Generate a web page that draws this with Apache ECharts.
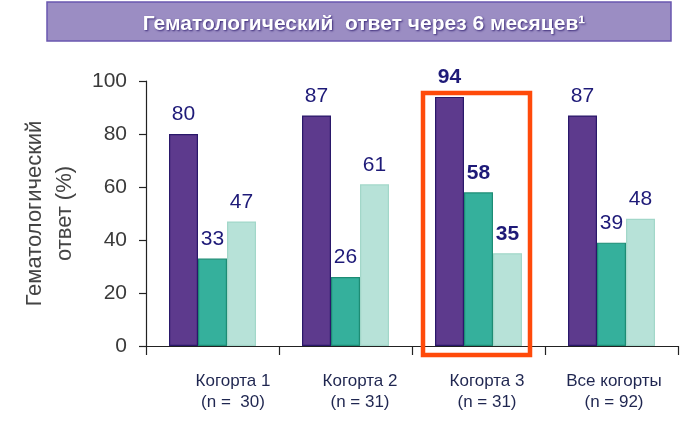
<!DOCTYPE html>
<html><head><meta charset="utf-8">
<script src="https://cdn.jsdelivr.net/npm/echarts@6/dist/echarts.min.js"></script>
<style>html,body{margin:0;padding:0;background:#fff}#c{width:700px;height:422px}</style>
</head><body><div id="c"></div>
<script>
const titleText = 'Гематологический  ответ через 6 месяцев¹';
const categories = ['Когорта 1', 'Когорта 2', 'Когорта 3', 'Все когорты'];
const catLabels = ['Когорта 1\n(n =  30)', 'Когорта 2\n(n = 31)', 'Когорта 3\n(n = 31)', 'Все когорты\n(n = 92)'];
const seriesA = [80, 87, 94, 87];
const seriesB = [33, 26, 58, 39];
const seriesC = [47, 61, 35, 48];
const yTicks = [0, 20, 40, 60, 80, 100];
const highlightIndex = 2;

const chart = echarts.init(document.getElementById('c'));
const font = 'Liberation Sans, Arial, sans-serif';
function mk(vals, color, border) {
  return {
    type: 'bar', xAxisIndex: 0, yAxisIndex: 0, barWidth: 29, barGap: '0%',
    itemStyle: { color: color, borderColor: border, borderWidth: 1.2 },
    label: { show: true, position: 'top', distance: 9, color: '#1e1a78', fontSize: 21, fontFamily: font },
    data: vals.map((v, i) => i === highlightIndex ? { value: v, label: { fontWeight: 'bold' } } : v)
  };
}
chart.setOption({
  animation: false,
  title: {
    text: titleText, left: 359, textAlign: 'center', top: 9,
    textStyle: { color: '#fff', fontSize: 21, fontWeight: 'bold', fontFamily: font,
      textShadowColor: '#3b2a78', textShadowBlur: 2, textShadowOffsetX: 1, textShadowOffsetY: 1 }
  },
  grid: [
    { left: 146, right: 22, top: 81, bottom: 76 },
    { left: 169.5, right: 22.5, top: 81, bottom: 76 }
  ],
  xAxis: [
    { type: 'category', gridIndex: 0, data: categories,
      axisLine: { lineStyle: { color: '#222', width: 1.2 } },
      axisTick: { show: true, length: 9, lineStyle: { color: '#222', width: 1.2 } },
      axisLabel: { show: false } },
    { type: 'category', gridIndex: 1, data: catLabels,
      axisLine: { show: false }, axisTick: { show: false },
      axisLabel: { margin: 25, color: '#1f2650', fontSize: 17, lineHeight: 21, fontFamily: font } }
  ],
  yAxis: [
    { type: 'value', gridIndex: 0, min: yTicks[0], max: yTicks[yTicks.length - 1], interval: 20,
      name: 'Гематологический\nответ (%)', nameLocation: 'middle', nameGap: 66, nameRotate: 90,
      nameTextStyle: { color: '#444', fontSize: 22, lineHeight: 30, fontFamily: font },
      axisLine: { show: true, lineStyle: { color: '#222', width: 1.2 } },
      axisTick: { show: true, length: 7, lineStyle: { color: '#222', width: 1.2 } },
      axisLabel: { margin: 19, color: '#3a3a3a', fontSize: 21, fontFamily: font },
      splitLine: { show: false } },
    { type: 'value', gridIndex: 1, min: 0, max: 100, show: false, splitLine: { show: false } }
  ],
  series: [
    mk(seriesA, '#5d3a8d', '#2a186a'),
    mk(seriesB, '#35b09c', '#1d8c74'),
    mk(seriesC, '#b7e2d8', '#a2d7c9')
  ]
});
const c = chart.convertToPixel({ xAxisIndex: 0, yAxisIndex: 0 }, [categories[highlightIndex], 0]);
const yTop = chart.convertToPixel({ yAxisIndex: 0 }, 100);
chart.setOption({
  graphic: [
    { type: 'rect', z: -1, shape: { x: 47, y: 2, width: 624, height: 39 },
      style: { fill: '#9b8dc3', stroke: '#6a57b0', lineWidth: 1.5 } },
    { type: 'rect', z: 100, shape: { x: c[0] - 55.5, y: yTop + 12, width: 107, height: c[1] - yTop + 8 - 12 + 1 },
      style: { fill: 'none', stroke: '#ff4a0a', lineWidth: 4.5 } }
  ]
});
</script></body></html>
